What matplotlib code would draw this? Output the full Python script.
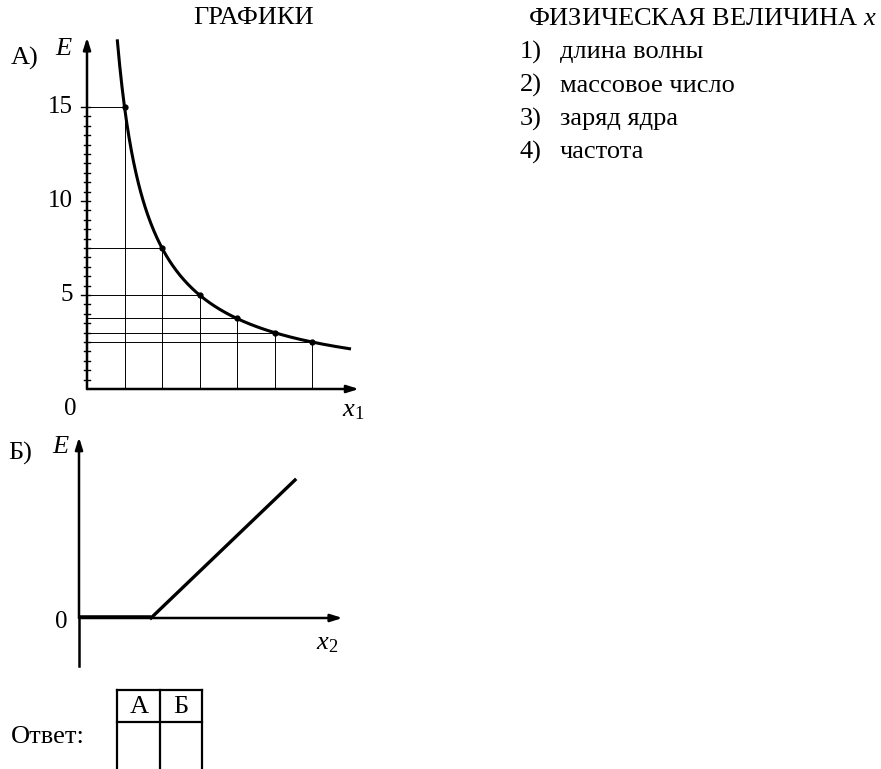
import matplotlib
matplotlib.use("Agg")
import matplotlib.pyplot as plt
import numpy as np

# ---- data ----
pts_x = [1, 2, 3, 4, 5, 6]
pts_E = [15, 7.5, 5, 3.75, 3, 2.5]
curve_k = 15.0              # E = k / x1 (read from points)
curve_range = [0.81, 7.0]
yticks_major = [5, 10, 15]
yticks_minor = np.arange(0.5, 15.01, 0.5)
lin_x = [0.0, 1.0, 3.0]     # graph Б: x2 positions (flat, knee, end)
lin_E = [0.0, 0.0, 3.0]
item_nums = ["1)", "2)", "3)", "4)"]
items = ["длина волны", "массовое число", "заряд ядра", "частота"]

W, H = 881, 769
plt.rcParams['font.family'] = ['Liberation Serif', 'DejaVu Serif']
plt.rcParams['mathtext.fontset'] = 'custom'
plt.rcParams['mathtext.rm'] = 'Liberation Serif'
plt.rcParams['mathtext.it'] = 'Liberation Serif:italic'

fig = plt.figure(figsize=(W / 100, H / 100), dpi=100)
FS = 19
FN = 18

def fx(px):
    return px / W

def fy(py):
    return 1 - py / H

def ftext(px, py, s, **kw):
    kw.setdefault('fontsize', FS)
    kw.setdefault('ha', 'center')
    kw.setdefault('va', 'center')
    fig.text(fx(px), fy(py), s, **kw)

# ---- graph A ----
ox, oy = 87, 389
ux, uy = 37.5, 18.8
xmax, ymax = 7.2, 18.5
axA = fig.add_axes([fx(ox), fy(oy), (xmax * ux) / W, (ymax * uy) / H])
axA.set_xlim(0, xmax)
axA.set_ylim(0, ymax)
axA.axis('off')

for xi, Ei in zip(pts_x, pts_E):
    axA.plot([xi, xi], [0, Ei], color='black', lw=0.7)
    axA.plot([0, xi], [Ei, Ei], color='black', lw=0.7)
xx = np.linspace(curve_range[0], curve_range[1], 300)
axA.plot(xx, curve_k / xx, color='black', lw=2.2, clip_on=False)
axA.plot(pts_x, pts_E, 'o', color='black', ms=3.5)

arrow = dict(arrowstyle='-|>,head_length=0.7,head_width=0.22', color='black', lw=1.8,
             shrinkA=0, shrinkB=0)
axA.annotate('', xy=(xmax + 0.05, 0), xytext=(0, 0), arrowprops=arrow, annotation_clip=False)
axA.annotate('', xy=(0, ymax + 0.2), xytext=(0, 0), arrowprops=arrow, annotation_clip=False)

for t in yticks_minor:
    if t in yticks_major:
        axA.plot([-0.17, 0.09], [t, t], color='black', lw=1.0, clip_on=False)
    else:
        axA.plot([-0.09, 0.09], [t, t], color='black', lw=1.0, clip_on=False)
for t in yticks_major:
    axA.text(-0.38, t, str(t), ha='right', va='center', fontsize=FN)

ftext(70, 409, '0', fontsize=FN)
ftext(64, 49, '$E$')
ftext(25, 58, 'А)')
ftext(353, 411, '$x_1$')
ftext(254, 18, 'ГРАФИКИ')

# ---- graph Б ----
ox2, oy2 = 79, 618
ux2, uy2 = 72.0, 46.0
axB = fig.add_axes([fx(ox2), fy(oy2), (3.6 * ux2) / W, (3.5 * uy2) / H])
axB.set_xlim(0, 3.6)
axB.set_ylim(0, 3.5)
axB.axis('off')
axB.plot([0, 0], [0, -1.04], color='black', lw=1.8, clip_on=False)
axB.annotate('', xy=(3.66, 0), xytext=(0, 0), arrowprops=arrow, annotation_clip=False)
axB.annotate('', xy=(0, 3.93), xytext=(0, 0), arrowprops=arrow, annotation_clip=False)
axB.plot(lin_x[:2], lin_E[:2], color='black', lw=4.0, solid_capstyle='butt')
axB.plot(lin_x[1:], lin_E[1:], color='black', lw=2.4, clip_on=False)

ftext(61, 622, '0', fontsize=FN)
ftext(61, 447, '$E$')
ftext(20, 453, 'Б)')
ftext(327, 644, '$x_2$')

# ---- answer table ----
tab = fig.add_axes([0, 0, 1, 1])
tab.set_xlim(0, W)
tab.set_ylim(H, 0)
tab.axis('off')
tab.plot([117, 202], [690, 690], color='black', lw=1.6)
tab.plot([117, 202], [722, 722], color='black', lw=1.6)
for xv in [117, 160, 202]:
    tab.plot([xv, xv], [690, H + 2], color='black', lw=1.6)
ftext(139, 707, 'А')
ftext(181, 707, 'Б')
ftext(48, 737, 'Ответ:')

# ---- right text ----
ftext(702, 19, 'ФИЗИЧЕСКАЯ ВЕЛИЧИНА $x$')
for i, (n, s) in enumerate(zip(item_nums, items)):
    ftext(520, 52 + 33.5 * i, n, ha='left')
    ftext(560, 52 + 33.5 * i, s, ha='left')

fig.savefig('out.png', dpi=100)
